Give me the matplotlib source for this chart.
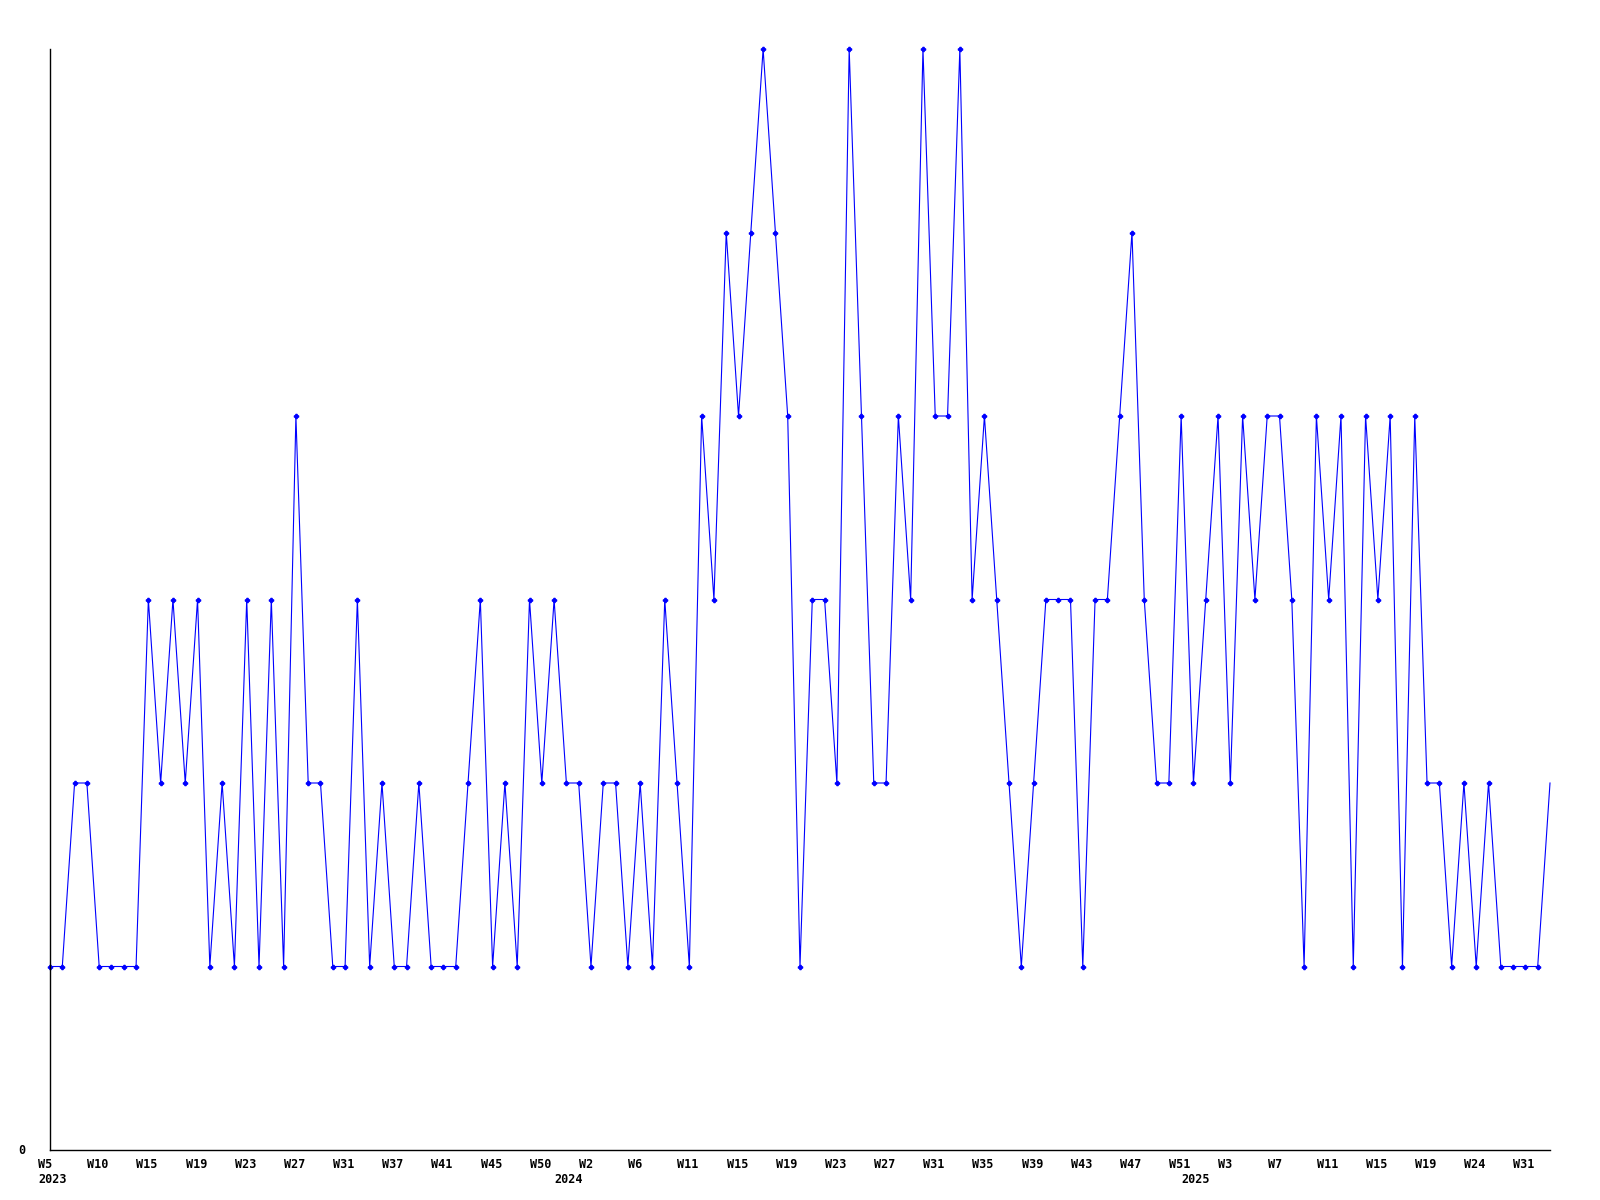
import matplotlib
matplotlib.use("Agg")
import matplotlib.pyplot as plt
import matplotlib.transforms as mtransforms
import numpy as np

# weekly counts, one point per week shown on the axis
values = [1, 1, 2, 2, 1, 1, 1, 1, 3, 2, 3, 2, 3, 1, 2, 1, 3, 1, 3, 1,
          4, 2, 2, 1, 1, 3, 1, 2, 1, 1, 2, 1, 1, 1, 2, 3, 1, 2, 1, 3,
          2, 3, 2, 2, 1, 2, 2, 1, 2, 1, 3, 2, 1, 4, 3, 5, 4, 5, 6, 5,
          4, 1, 3, 3, 2, 6, 4, 2, 2, 4, 3, 6, 4, 4, 6, 3, 4, 3, 2, 1,
          2, 3, 3, 3, 1, 3, 3, 4, 5, 3, 2, 2, 4, 2, 3, 4, 2, 4, 3, 4,
          4, 3, 1, 4, 3, 4, 1, 4, 3, 4, 1, 4, 2, 2, 1, 2, 1, 2, 1, 1,
          1, 1, 2]

# tick labels, every 4th point
week_labels = ['W5', 'W10', 'W15', 'W19', 'W23', 'W27', 'W31', 'W37', 'W41', 'W45',
               'W50', 'W2', 'W6', 'W11', 'W15', 'W19', 'W23', 'W27', 'W31', 'W35',
               'W39', 'W43', 'W47', 'W51', 'W3', 'W7', 'W11', 'W15', 'W19', 'W24', 'W31']
week_pos = list(range(0, 124, 4))[:len(week_labels)]

years = ['2023', '2024', '2025']
year_pos = [0, 42, 93]

x = np.arange(len(values))

fig = plt.figure(figsize=(16, 12), dpi=100)
ax = fig.add_axes([50 / 1600, 1 - 1150 / 1200, 1500 / 1600, 1101 / 1200])

ax.plot(x, values, color='#0000ff', linewidth=0.8, marker='P', markersize=3,
        markevery=list(range(len(values) - 1)), clip_on=False)

ax.set_xlim(0, len(values) - 1)
ax.set_ylim(0, 6)

for side in ['top', 'right']:
    ax.spines[side].set_visible(False)
for side in ['left', 'bottom']:
    ax.spines[side].set_color('black')
    ax.spines[side].set_linewidth(1)

ax.set_xticks([])
ax.set_yticks([])

font = dict(family='DejaVu Sans Mono', weight='bold', fontsize=8.5)
trans = ax.get_xaxis_transform()

lab_off = mtransforms.ScaledTranslation(-12 / 100, -8 / 100, fig.dpi_scale_trans)
for pos, lab in zip(week_pos, week_labels):
    ax.text(pos, 0, lab, transform=trans + lab_off, ha='left', va='top', **font)

year_off = mtransforms.ScaledTranslation(-12 / 100, -23 / 100, fig.dpi_scale_trans)
for pos, lab in zip(year_pos, years):
    ax.text(pos, 0, lab, transform=trans + year_off, ha='left', va='top', **font)

zero_off = mtransforms.ScaledTranslation(-25 / 100, 0, fig.dpi_scale_trans)
ax.text(0, 0, '0', transform=ax.transAxes + zero_off, ha='right', va='center', **font)

fig.savefig('out.png', dpi=100, facecolor='white')
